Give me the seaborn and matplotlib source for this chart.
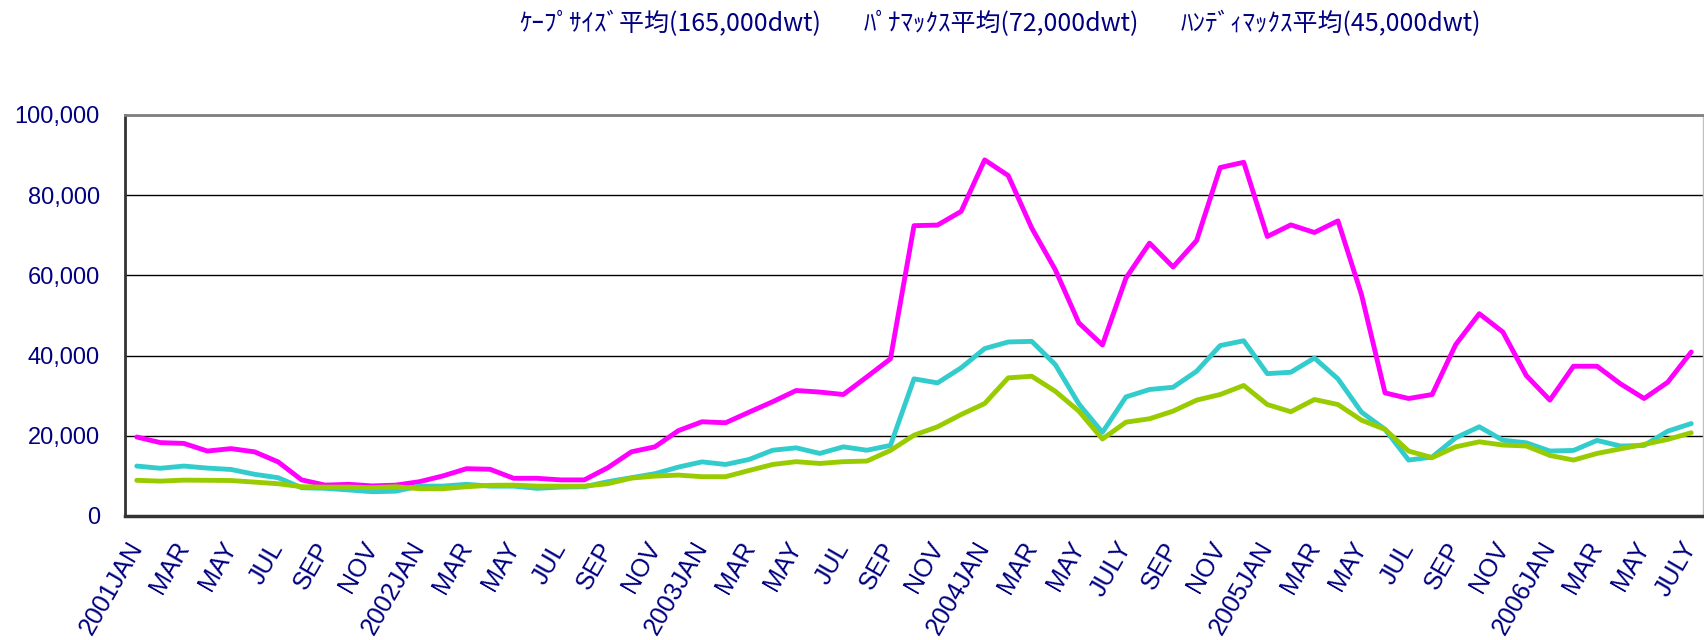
import numpy as np
import pandas as pd
import matplotlib
matplotlib.use("Agg")
import matplotlib.pyplot as plt
from matplotlib.ticker import FuncFormatter
import seaborn as sns

# Monthly average time-charter rates, 2001 JAN - 2006 JUL (USD/day)
cape = [19700, 18300, 18100, 16200, 16800, 16000, 13500, 9000, 7700, 7900, 7500, 7700,
        8550, 10000, 11800, 11650, 9400, 9400, 9000, 9000, 12050, 16000, 17250, 21300,
        23500, 23250, 25900, 28500, 31300, 30900, 30300, 34700, 39200, 72400, 72550, 75950,
        88800, 84900, 71800, 61400, 48150, 42650, 59350, 68050, 62100, 68700, 86900, 88200,
        69700, 72600, 70700, 73600, 55200, 30700, 29300, 30300, 42750, 50450, 45900, 35000,
        28900, 37350, 37350, 32950, 29300, 33350, 40900]
panamax = [12450, 11900, 12450, 11950, 11600, 10400, 9550, 7050, 6900, 6500, 6050, 6200,
           7450, 7450, 7900, 7450, 7450, 6900, 7200, 7300, 8550, 9550, 10550, 12200,
           13500, 12850, 14100, 16400, 17000, 15600, 17250, 16400, 17600, 34200, 33200, 36950,
           41750, 43400, 43550, 37750, 27950, 20850, 29700, 31550, 32100, 36100, 42500, 43700,
           35500, 35850, 39400, 34200, 25900, 21600, 13950, 14700, 19500, 22250, 18900, 18250,
           16200, 16350, 18850, 17450, 17600, 21150, 23050]
handymax = [8900, 8700, 8950, 8900, 8850, 8450, 8050, 7300, 7200, 7200, 7050, 7300,
            6800, 6800, 7300, 7650, 7700, 7450, 7450, 7450, 8050, 9450, 9950, 10200,
            9800, 9800, 11350, 12850, 13550, 13100, 13550, 13700, 16350, 20150, 22250, 25300,
            28050, 34450, 34850, 31100, 26150, 19200, 23400, 24250, 26150, 28900, 30300, 32550,
            27800, 26000, 29050, 27800, 23900, 21600, 16200, 14550, 17250, 18500, 17700, 17450,
            15100, 13950, 15600, 16750, 17850, 19100, 20750]

series_names = ["ｹｰﾌﾟｻｲｽﾞ平均(165,000dwt)", "ﾊﾟﾅﾏｯｸｽ平均(72,000dwt)", "ﾊﾝﾃﾞｨﾏｯｸｽ平均(45,000dwt)"]
series_colors = ["#FF00FF", "#33CCCC", "#99CC00"]

months = [f"{y}-{m:02d}" for y in range(2001, 2007) for m in range(1, 13)][:67]
tick_labels = ["2001JAN", "MAR", "MAY", "JUL", "SEP", "NOV",
               "2002JAN", "MAR", "MAY", "JUL", "SEP", "NOV",
               "2003JAN", "MAR", "MAY", "JUL", "SEP", "NOV",
               "2004JAN", "MAR", "MAY", "JULY", "SEP", "NOV",
               "2005JAN", "MAR", "MAY", "JUL", "SEP", "NOV",
               "2006JAN", "MAR", "MAY", "JULY"]

wide = pd.DataFrame({"month": months,
                     series_names[0]: cape,
                     series_names[1]: panamax,
                     series_names[2]: handymax})
df = wide.melt(id_vars="month", var_name="type", value_name="rate")

sns.set_style("white")
plt.rcParams["font.family"] = ["Liberation Sans", "Noto Sans CJK JP", "DejaVu Sans"]

navy = "#000080"
fig = plt.figure(figsize=(17.04, 6.4), dpi=100)
ax = fig.add_axes([125 / 1704, 1 - 516 / 640, (1703 - 125) / 1704, (516 - 115) / 640])

sns.lineplot(data=df, x="month", y="rate", hue="type", hue_order=series_names,
             palette=series_colors, linewidth=3.5, sort=False, ax=ax)

ax.set_xlim(-0.5, len(months) - 0.5)
ax.set_ylim(0, 100000)
ax.set_yticks(range(0, 100001, 20000))
ax.yaxis.set_major_formatter(FuncFormatter(lambda v, _: f"{int(v):,}"))
ax.set_xticks(range(0, len(months), 2))
ax.set_xticklabels(tick_labels, rotation=60, ha="right", rotation_mode="anchor", va="center")
ax.tick_params(axis="x", length=0, pad=20, labelsize=18, labelcolor=navy)
ax.tick_params(axis="y", length=0, pad=18, labelsize=17, labelcolor=navy)
ax.set_xlabel("")
ax.set_ylabel("")

ax.yaxis.grid(True, color="black", linewidth=1.0)
ax.set_axisbelow(True)

ax.spines["left"].set_color("#333333")
ax.spines["left"].set_linewidth(2)
ax.spines["bottom"].set_color("#333333")
ax.spines["bottom"].set_linewidth(2.5)
ax.spines["top"].set_color("#808080")
ax.spines["top"].set_linewidth(2)
ax.spines["right"].set_color("#c0c0c0")
ax.spines["right"].set_linewidth(1)

handles, labels = ax.get_legend_handles_labels()
leg = ax.legend(handles, labels, ncol=3, loc="center", bbox_to_anchor=(0.587, 0.962),
                bbox_transform=fig.transFigure, frameon=False, handlelength=0,
                handletextpad=0, columnspacing=1.7, labelcolor=navy,
                prop={"family": ["Noto Sans CJK JP", "DejaVu Sans"], "size": 18})
for h in leg.legend_handles:
    h.set_visible(False)

fig.savefig("out.png", dpi=100, facecolor="white")
